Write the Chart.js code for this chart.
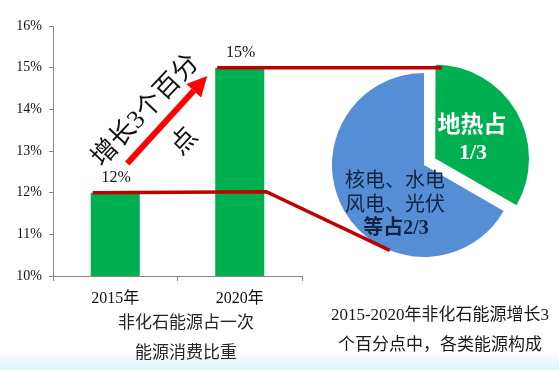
<!DOCTYPE html>
<html>
<head>
<meta charset="utf-8">
<script src="https://cdn.jsdelivr.net/npm/chart.js@4.4.0/dist/chart.umd.min.js"></script>
<style>
  html, body { margin: 0; padding: 0; }
  body {
    width: 559px; height: 370px; overflow: hidden; position: relative;
    background: linear-gradient(to bottom, #fff 0px, #fff 352px, #e9f9fb 361px, #dcf5f8 370px);
  }
  #barChart { position: absolute; left: 0; top: 0; z-index: 2; }
  #pieChart { position: absolute; left: 314px; top: 55px; z-index: 1; }
</style>
</head>
<body>
<canvas id="pieChart" width="220" height="220"></canvas>
<canvas id="barChart" width="559" height="370"></canvas>
<script>
// data
const years = ['2015年', '2020年'];
const shares = [12, 15];
const yTicks = [10, 11, 12, 13, 14, 15, 16];
const mixLabels = ['地热', '核电、水电、风电、光伏等'];
const mixParts = [1, 2];

const FONT = '"Liberation Serif", "Noto Sans CJK SC", serif';
const RED = '#c00000';

// text inside the pie slices
const pieText = {
  id: 'pieText',
  afterDatasetsDraw(chart) {
    const arc = chart.getDatasetMeta(0).data[1];
    const cx = arc.x, cy = arc.y;
    const total = mixParts.reduce((a, b) => a + b, 0);
    const c = chart.ctx;
    c.save();
    c.textAlign = 'center';
    c.textBaseline = 'middle';
    c.fillStyle = '#fff';
    c.font = 'bold 23px ' + FONT;
    c.fillText('地热占', cx + 48, cy - 39);
    c.font = 'bold 22px ' + FONT;
    c.fillText(mixParts[0] + '/' + total, cx + 49, cy - 12);
    c.fillStyle = '#0f2440';
    c.font = '20px ' + FONT;
    c.fillText('核电、水电', cx - 29, cy + 17);
    c.fillText('风电、光伏', cx - 29, cy + 41);
    c.font = 'bold 20px ' + FONT;
    c.fillText('等占' + mixParts[1] + '/' + total, cx - 28, cy + 64);
    c.restore();
  }
};

const pieCanvas = document.getElementById('pieChart');
const pieChart = new Chart(pieCanvas, {
  type: 'pie',
  data: {
    labels: mixLabels,
    datasets: [{
      data: mixParts,
      backgroundColor: ['#00b050', '#558ed5'],
      borderWidth: 0,
      offset: [52, 0], // arc moves offset/4 px
      radius: 92
    }]
  },
  options: {
    responsive: false,
    animation: false,
    events: [],
    rotation: 0,
    layout: { padding: 0 },
    plugins: { legend: { display: false }, tooltip: { enabled: false } }
  },
  plugins: [pieText]
});

// value labels, connector lines, arrow and captions
const notes = {
  id: 'notes',
  afterDatasetsDraw(chart) {
    const c = chart.ctx;
    const y = chart.scales.y;
    const bars = chart.getDatasetMeta(0).data;
    const b1 = bars[0], b2 = bars[1];
    c.save();
    c.textAlign = 'center';
    c.textBaseline = 'middle';

    // value labels
    c.fillStyle = '#111';
    c.font = '16px ' + FONT;
    bars.forEach((b, i) => c.fillText(shares[i] + '%', b.x + 1, b.y - 15));

    // connectors to the pie
    const arc = pieChart.getDatasetMeta(0).data[1];
    const pcx = pieCanvas.offsetLeft + arc.x;
    const pcy = pieCanvas.offsetTop + arc.y;
    const r = arc.outerRadius;
    const a = 111.8 * Math.PI / 180;
    c.strokeStyle = RED;
    c.lineWidth = 3.5;
    c.beginPath();
    c.moveTo(b1.x - b1.width / 2 + 2, b1.y);
    c.lineTo(b2.x + b2.width / 2 + 2, b1.y - 1);
    c.lineTo(pcx + r * Math.cos(a), pcy + r * Math.sin(a));
    c.stroke();
    c.beginPath();
    c.moveTo(b2.x - b2.width / 2 + 2, b2.y);
    c.lineTo(pcx + 18, b2.y);
    c.stroke();

    // arrow
    const x0 = b1.x + 12, y0 = y.getPixelForValue(12.7);
    const x1 = b2.x - b2.width / 2 - 8, y1 = y.getPixelForValue(14.8);
    const ang = Math.atan2(y1 - y0, x1 - x0);
    const hl = 20, hw = 10;
    const bx = x1 - hl * Math.cos(ang), by = y1 - hl * Math.sin(ang);
    c.strokeStyle = '#ff0000';
    c.fillStyle = '#ff0000';
    c.lineWidth = 6;
    c.beginPath();
    c.moveTo(x0, y0);
    c.lineTo(bx, by);
    c.stroke();
    c.beginPath();
    c.moveTo(x1, y1);
    c.lineTo(bx + hw * Math.sin(ang), by - hw * Math.cos(ang));
    c.lineTo(bx - hw * Math.sin(ang), by + hw * Math.cos(ang));
    c.closePath();
    c.fill();

    // rotated note
    c.fillStyle = '#111';
    c.font = '26px ' + FONT;
    const rot = -46.7 * Math.PI / 180;
    c.save();
    c.translate(146, 111);
    c.rotate(rot);
    c.fillText('增长3个百分', 0, 0);
    c.restore();
    c.save();
    c.translate(185, 142);
    c.rotate(rot);
    c.fillText('点', 0, 0);
    c.restore();

    // captions
    c.font = '17px ' + FONT;
    c.fillStyle = '#262626';
    c.fillText('非化石能源占一次', 186, 324);
    c.fillText('能源消费比重', 186, 354);
    c.fillStyle = '#1a1a1a';
    c.fillText('2015-2020年非化石能源增长3', 440, 316);
    c.fillText('个百分点中，各类能源构成', 440, 346);
    c.restore();
  }
};

new Chart(document.getElementById('barChart'), {
  type: 'bar',
  data: {
    labels: years,
    datasets: [{
      data: shares,
      backgroundColor: '#00b050',
      barPercentage: 0.394,
      categoryPercentage: 1
    }]
  },
  options: {
    responsive: false,
    animation: false,
    events: [],
    layout: { padding: { left: 0, top: 26, right: 257, bottom: 0 } },
    plugins: { legend: { display: false }, tooltip: { enabled: false } },
    scales: {
      x: {
        grid: { offset: true, drawOnChartArea: false, tickLength: 5, color: '#868686' },
        border: { color: '#868686' },
        ticks: { color: '#111', font: { family: FONT, size: 16 }, padding: 8 },
        afterFit: s => { s.height = 94; }
      },
      y: {
        min: yTicks[0],
        max: yTicks[yTicks.length - 1],
        afterBuildTicks: s => { s.ticks = yTicks.map(v => ({ value: v })); },
        grid: { drawOnChartArea: false, tickLength: 4, color: '#868686' },
        border: { color: '#868686' },
        ticks: { color: '#111', font: { family: FONT, size: 14 }, padding: 7, callback: v => v + '%' },
        afterFit: s => { s.width = 53; }
      }
    }
  },
  plugins: [notes]
});
</script>
</body>
</html>
